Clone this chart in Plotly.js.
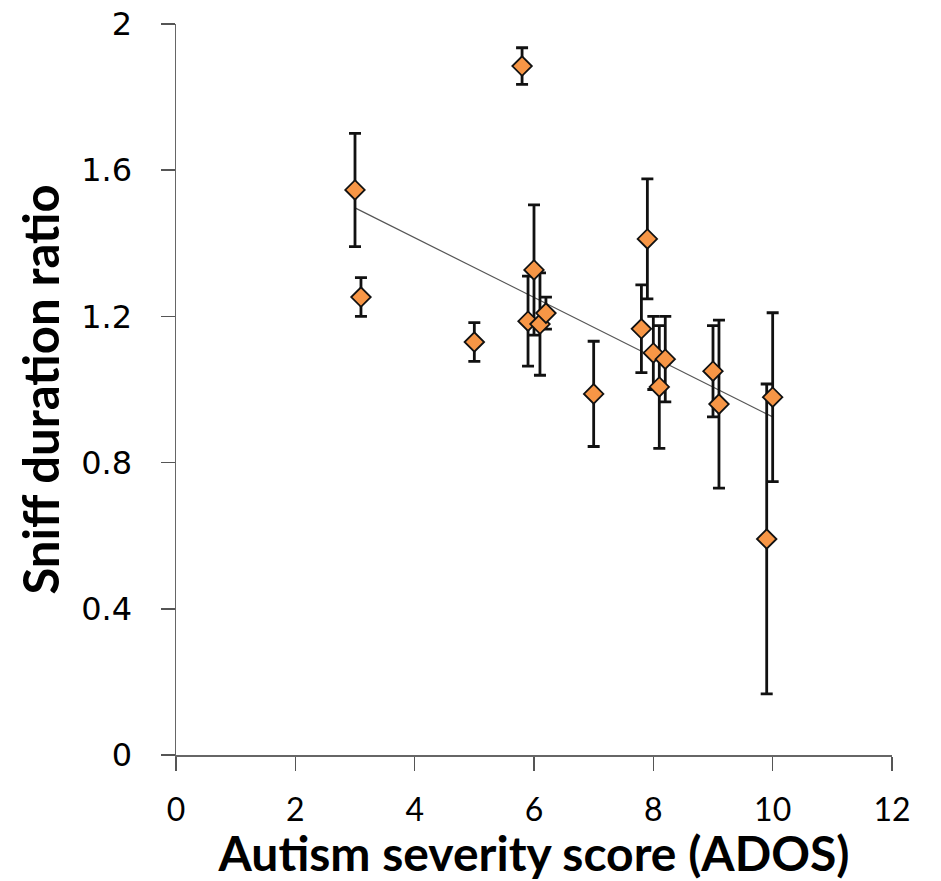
<!DOCTYPE html>
<html>
<head>
<meta charset="utf-8">
<script src="https://cdn.plot.ly/plotly-3.0.1.min.js"></script>
<style>html,body{margin:0;padding:0;background:#fff;}#chart{width:941px;height:881px;}</style>
</head>
<body>
<div id="chart"></div>
<script>
// ADOS score (x), sniff duration ratio (y), error (±)
const adosScore = [3.0, 3.1, 5.0, 5.8, 6.0, 5.9, 6.1, 6.2, 7.0, 7.8, 7.9, 8.0, 8.1, 8.2, 9.0, 9.1, 9.9, 10.0];
const sniffRatio = [1.546, 1.253, 1.130, 1.885, 1.327, 1.187, 1.179, 1.209, 0.988, 1.166, 1.412, 1.100, 1.007, 1.083, 1.050, 0.960, 0.591, 0.979];
const sniffError = [0.155, 0.053, 0.053, 0.050, 0.178, 0.123, 0.140, 0.044, 0.144, 0.120, 0.164, 0.100, 0.168, 0.117, 0.125, 0.230, 0.424, 0.231];
// linear trend line endpoints
const trendX = [3.0, 10.0];
const trendY = [1.497, 0.925];
const xTicks = [0, 2, 4, 6, 8, 10, 12];
const yTicks = [0, 0.4, 0.8, 1.2, 1.6, 2];
const yTickText = ['0', '0.4', '0.8', '1.2', '1.6', '2'];

const titleFamily = 'Lato, "Open Sans", sans-serif';

const traces = [
  {
    x: trendX, y: trendY, mode: 'lines', type: 'scatter',
    line: {color: '#555555', width: 1.2}, hoverinfo: 'skip', showlegend: false
  },
  {
    x: adosScore, y: sniffRatio, mode: 'markers', type: 'scatter',
    error_y: {type: 'data', array: sniffError, visible: true, color: '#111111', thickness: 2.8, width: 6},
    marker: {symbol: 'diamond', size: 15, color: '#F79646', line: {color: '#111111', width: 1.8}},
    showlegend: false
  }
];

const layout = {
  width: 941, height: 881,
  margin: {l: 176, r: 49, t: 24, b: 126},
  paper_bgcolor: '#ffffff', plot_bgcolor: '#ffffff',
  showlegend: false,
  xaxis: {
    range: [0, 12], tickmode: 'array', tickvals: xTicks,
    showgrid: false, zeroline: false,
    showline: true, linecolor: '#666666', linewidth: 1.5,
    ticks: 'outside', ticklen: 14, tickwidth: 1.5, tickcolor: '#555555',
    ticklabelstandoff: 12,
    tickfont: {family: 'Lato, "Open Sans", sans-serif', size: 32, color: '#000'},
    title: {text: 'Autism severity score (ADOS)', font: {family: titleFamily, size: 48, color: '#000', weight: 'bold'}, standoff: 8}
  },
  yaxis: {
    range: [0, 2], tickmode: 'array', tickvals: yTicks, ticktext: yTickText,
    showgrid: false, zeroline: false,
    showline: true, linecolor: '#666666', linewidth: 1.5,
    ticks: 'outside', ticklen: 14, tickwidth: 1.5, tickcolor: '#555555',
    ticklabelstandoff: 22,
    tickfont: {family: '"DejaVu Sans", Verdana, sans-serif', size: 32, color: '#000'},
    title: {text: 'Sniff duration ratio', font: {family: titleFamily, size: 49, color: '#000', weight: 'bold'}, standoff: 6}
  }
};

Plotly.newPlot('chart', traces, layout, {displayModeBar: false, staticPlot: true});
</script>
</body>
</html>
